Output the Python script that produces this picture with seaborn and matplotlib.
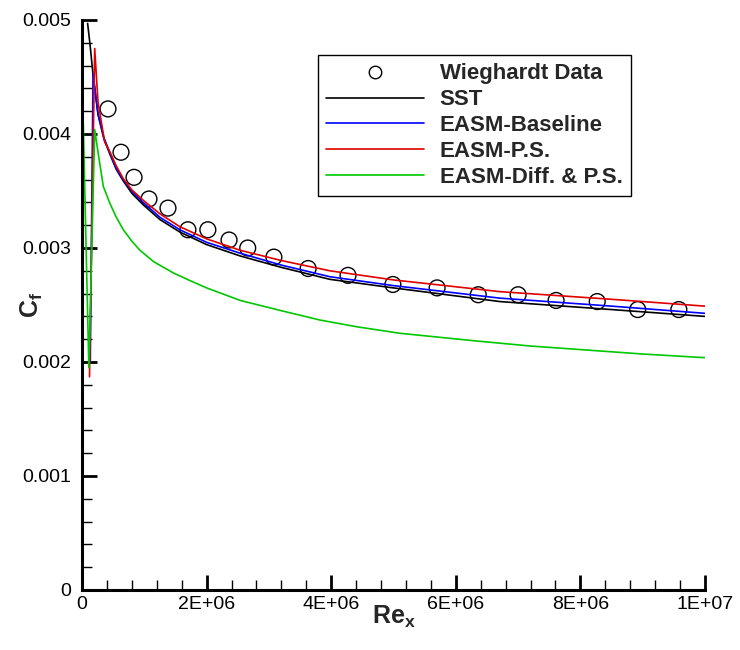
"""
Skin friction coefficient along a flat plate: Wieghardt data vs turbulence models
"""

import numpy as np
import pandas as pd
import matplotlib
matplotlib.use("Agg")
import matplotlib.pyplot as plt
from matplotlib.ticker import MultipleLocator, FuncFormatter
from matplotlib.lines import Line2D
import seaborn as sns

sns.set_style("ticks")
plt.rcParams["font.family"] = ["Liberation Sans", "DejaVu Sans"]
plt.rcParams["mathtext.fontset"] = "custom"
plt.rcParams["mathtext.bf"] = "Liberation Sans:bold"
plt.rcParams["mathtext.rm"] = "Liberation Sans"

# Wieghardt experimental data
exp_rex = [0.417e6, 0.626e6, 0.835e6, 1.075e6, 1.38e6, 1.70e6, 2.02e6, 2.36e6,
           2.66e6, 3.08e6, 3.63e6, 4.27e6, 4.99e6, 5.70e6, 6.36e6, 7.00e6,
           7.61e6, 8.27e6, 8.92e6, 9.58e6]
exp_cf = [0.00422, 0.00384, 0.00362, 0.00343, 0.00335, 0.00316, 0.00316, 0.00307,
          0.00300, 0.00292, 0.00282, 0.00276, 0.00268, 0.00265, 0.00259, 0.00259,
          0.00254, 0.00253, 0.00246, 0.00246]

# SST
sst_rex = [0.09e6, 0.13e6, 0.177e6, 0.257e6, 0.35e6, 0.45e6, 0.55e6, 0.66e6, 0.8e6,
           0.98e6, 1.25e6, 1.57e6, 2.0e6, 2.54e6, 3.2e6, 3.98e6, 5.0e6, 6.71e6,
           8.5e6, 1.0e7]
sst_cf = [0.00497, 0.00478, 0.00452, 0.00417, 0.00396, 0.00382, 0.00369, 0.00359,
          0.00348, 0.00338, 0.00325, 0.00314, 0.00303, 0.00293, 0.00283, 0.002725,
          0.00265, 0.00253, 0.00246, 0.00240]

# EASM-Baseline
base_rex = [0.133e6, 0.177e6, 0.257e6, 0.35e6, 0.45e6, 0.55e6, 0.66e6, 0.8e6,
            0.98e6, 1.25e6, 1.57e6, 2.0e6, 2.54e6, 3.2e6, 3.98e6, 5.0e6, 6.71e6,
            8.5e6, 1.0e7]
base_cf = [0.00200, 0.00453, 0.00418, 0.00397, 0.00383, 0.00370, 0.00360, 0.00350,
           0.00340, 0.00327, 0.00316, 0.00305, 0.002954, 0.00285, 0.002748, 0.00267,
           0.00256, 0.00249, 0.002427]

# EASM-P.S.
ps_rex = [0.12e6, 0.204e6, 0.257e6, 0.364e6, 0.45e6, 0.55e6, 0.66e6, 0.8e6, 0.98e6,
          1.25e6, 1.57e6, 2.0e6, 2.54e6, 3.2e6, 3.98e6, 5.0e6, 6.71e6, 8.5e6, 1.0e7]
ps_cf = [0.00187, 0.00475, 0.00428, 0.00393, 0.00384, 0.00372, 0.00361, 0.00351,
         0.00342, 0.00330, 0.003187, 0.00308, 0.00298, 0.00289, 0.00280, 0.00272,
         0.002617, 0.00255, 0.00249]

# EASM-Diff. & P.S.
diff_rex = [0.02e6, 0.11e6, 0.204e6, 0.26e6, 0.342e6, 0.449e6, 0.55e6, 0.663e6,
            0.8e6, 0.93e6, 1.15e6, 1.47e6, 1.75e6, 2.0e6, 2.54e6, 3.2e6, 3.82e6,
            4.4e6, 5.1e6, 6.3e6, 7.2e6, 8.1e6, 9.0e6, 1.0e7]
diff_cf = [0.0041, 0.00195, 0.00404, 0.00383, 0.00354, 0.00339, 0.00327, 0.00316,
           0.00306, 0.00298, 0.00288, 0.00278, 0.00271, 0.00265, 0.00254, 0.00245,
           0.002368, 0.00231, 0.002252, 0.002186, 0.00214, 0.002105, 0.00207, 0.002038]

labels = ["Wieghardt Data", "SST", "EASM-Baseline", "EASM-P.S.", "EASM-Diff. & P.S."]
colors = ["black", "black", "#0000ff", "#e00000", "#00c800"]

fig = plt.figure(figsize=(7.4, 6.5), dpi=100)
ax = fig.add_axes([82 / 740, 60 / 650, 623 / 740, 570 / 650])

curves = [(sst_rex, sst_cf), (base_rex, base_cf), (ps_rex, ps_cf), (diff_rex, diff_cf)]
for (rx, cf), col in zip(curves, colors[1:]):
    df = pd.DataFrame({"Rex": rx, "Cf": cf})
    sns.lineplot(data=df, x="Rex", y="Cf", ax=ax, color=col, lw=1.2,
                 sort=False, estimator=None, legend=False)

exp_df = pd.DataFrame({"Rex": exp_rex, "Cf": exp_cf})
sns.scatterplot(data=exp_df, x="Rex", y="Cf", ax=ax, marker="o", s=130,
                facecolor="none", edgecolor="black", linewidth=1.0, legend=False)

ax.set_xlim(0, 1e7)
ax.set_ylim(0, 0.005)
ax.xaxis.set_major_locator(MultipleLocator(2e6))
ax.xaxis.set_minor_locator(MultipleLocator(4e5))
ax.yaxis.set_major_locator(MultipleLocator(0.001))
ax.yaxis.set_minor_locator(MultipleLocator(0.0002))


def sci(v, pos):
    if v <= 0:
        return "0" if v == 0 else ""
    e = int(np.floor(np.log10(v) + 1e-9))
    m = v / 10 ** e
    return f"{m:g}E+{e:02d}"


def yfmt(v, pos):
    return "0" if abs(v) < 1e-12 else f"{v:.3f}"


ax.xaxis.set_major_formatter(FuncFormatter(sci))
ax.yaxis.set_major_formatter(FuncFormatter(yfmt))

for side in ["top", "right"]:
    ax.spines[side].set_visible(False)
for side in ["left", "bottom"]:
    ax.spines[side].set_linewidth(2.2)
    ax.spines[side].set_color("black")

ax.tick_params(which="major", direction="in", length=11, width=2, labelsize=14,
               colors="black")
ax.tick_params(which="minor", direction="in", length=7, width=1, colors="black")
ax.tick_params(axis="y", which="major", pad=8)
ax.tick_params(axis="x", which="major", pad=4)

ax.set_xlabel(r"$\mathbf{Re_x}$", fontsize=18, labelpad=-6)
ax.set_ylabel(r"$\mathbf{C_f}$", fontsize=18)
ax.yaxis.set_label_coords(-0.06, 0.5)

handles = [Line2D([], [], ls="none", marker="o", ms=9, mfc="none", mec="black", mew=1.0)]
handles += [Line2D([], [], color=c, lw=1.2) for c in colors[1:]]
leg = ax.legend(handles, labels, loc="upper left", bbox_to_anchor=(0.3788, 0.9386),
                borderaxespad=0, prop={"size": 16, "weight": "bold"},
                handlelength=4.4, handletextpad=0.7, labelspacing=0.22,
                fancybox=False, framealpha=1, edgecolor="black", borderpad=0.38)
leg.get_frame().set_linewidth(1.0)

fig.savefig("out.png", dpi=100)
